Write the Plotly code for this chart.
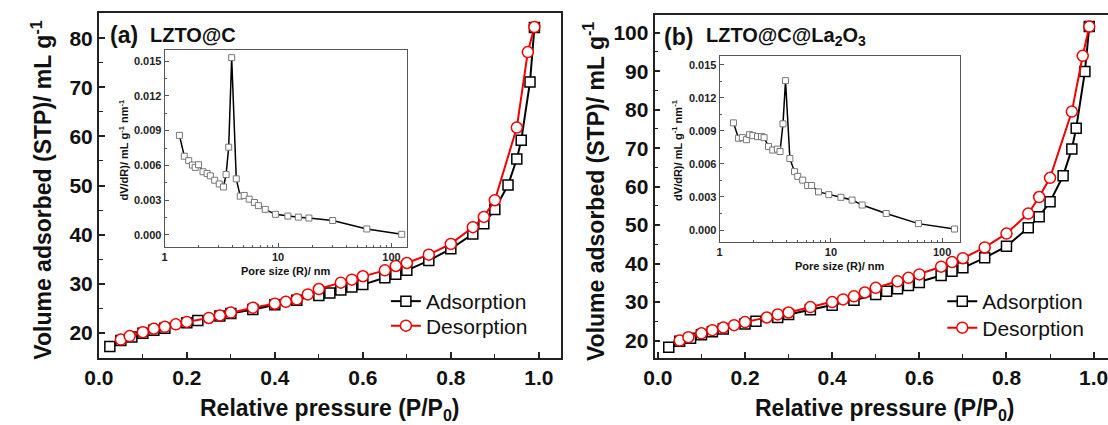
import plotly.graph_objects as go

W, H = 1108, 425

# ---------------- data ----------------
a_ads_x = [0.025, 0.05, 0.075, 0.1, 0.125, 0.15, 0.2, 0.225, 0.275, 0.3, 0.35, 0.4, 0.45, 0.5, 0.525,
           0.55, 0.575, 0.6, 0.65, 0.675, 0.7, 0.75, 0.8, 0.85, 0.875, 0.9, 0.93, 0.95, 0.96, 0.98, 0.99]
a_ads_y = [17.2, 18.4, 19.1, 19.9, 20.5, 20.9, 22.0, 22.5, 23.4, 23.9, 24.7, 25.7, 26.6, 27.6, 28.1,
           28.7, 29.3, 29.8, 31.2, 31.9, 32.7, 34.7, 37.1, 40.1, 42.2, 45.1, 50.1, 55.4, 59.2, 71.1, 82.2]
a_des_x = [0.05, 0.07, 0.1, 0.125, 0.15, 0.175, 0.2, 0.25, 0.275, 0.3, 0.35, 0.4, 0.425, 0.45, 0.475,
           0.5, 0.55, 0.575, 0.6, 0.65, 0.675, 0.7, 0.75, 0.8, 0.85, 0.875, 0.9, 0.95, 0.975, 0.99]
a_des_y = [18.6, 19.3, 20.1, 20.8, 21.2, 21.7, 22.2, 23.0, 23.5, 24.1, 25.1, 25.9, 26.3, 26.8, 27.8,
           28.9, 30.2, 30.8, 31.5, 32.7, 33.6, 34.2, 35.9, 38.1, 41.5, 43.6, 47.0, 61.8, 77.2, 82.3]

b_ads_x = [0.025, 0.05, 0.075, 0.1, 0.125, 0.15, 0.2, 0.225, 0.275, 0.3, 0.35, 0.4, 0.45, 0.5, 0.525,
           0.55, 0.575, 0.6, 0.65, 0.675, 0.7, 0.75, 0.8, 0.85, 0.875, 0.9, 0.93, 0.95, 0.96, 0.98, 0.99]
b_ads_y = [18.3, 19.8, 20.6, 21.5, 22.3, 23.0, 24.3, 25.0, 26.0, 26.8, 28.0, 29.2, 30.5, 32.0, 32.8,
           33.5, 34.3, 35.1, 36.9, 38.0, 38.9, 41.5, 44.5, 49.3, 52.2, 56.1, 62.8, 69.8, 75.2, 89.9, 101.6]
b_des_x = [0.05, 0.07, 0.1, 0.125, 0.15, 0.175, 0.2, 0.25, 0.275, 0.3, 0.35, 0.4, 0.425, 0.45, 0.475,
           0.5, 0.55, 0.575, 0.6, 0.65, 0.675, 0.7, 0.75, 0.8, 0.85, 0.875, 0.9, 0.95, 0.975, 0.99]
b_des_y = [20.0, 20.9, 21.9, 22.7, 23.4, 24.0, 24.8, 26.0, 26.8, 27.3, 28.7, 30.0, 30.7, 31.5, 32.5,
           33.7, 35.4, 36.3, 37.2, 39.2, 40.4, 41.4, 44.2, 47.8, 53.0, 57.3, 62.3, 79.5, 94.0, 101.6]

a_pore_r = [1.35, 1.49, 1.63, 1.76, 1.86, 1.99, 2.18, 2.37, 2.53, 2.76, 3.03, 3.30, 3.48, 3.67, 3.90,
            4.28, 4.64, 5.03, 5.56, 6.18, 6.70, 7.71, 9.48, 12.2, 15.1, 18.7, 30.3, 60.6, 123]
a_pore_v = [0.00859, 0.00679, 0.00641, 0.00603, 0.00583, 0.00606, 0.00545, 0.00530, 0.00510, 0.00472,
            0.00440, 0.00414, 0.00521, 0.00757, 0.01529, 0.00484, 0.00335, 0.00341, 0.00309, 0.00280,
            0.00253, 0.00221, 0.00178, 0.00163, 0.00154, 0.00146, 0.00125, 0.00052, 0.00006]

b_pore_r = [1.33, 1.48, 1.60, 1.74, 1.86, 1.99, 2.19, 2.38, 2.51, 2.75, 3.00, 3.30, 3.49, 3.71, 3.91,
            4.28, 4.71, 5.04, 5.58, 6.18, 6.71, 7.74, 9.57, 12.3, 15.5, 19.1, 31.4, 61.2, 129]
b_pore_v = [0.00973, 0.00833, 0.00839, 0.00820, 0.00866, 0.00857, 0.00848, 0.00848, 0.00839, 0.00759,
            0.00726, 0.00735, 0.00713, 0.00964, 0.01356, 0.00649, 0.00530, 0.00487, 0.00453, 0.00404,
            0.00404, 0.00346, 0.00321, 0.00297, 0.00272, 0.00227, 0.00150, 0.00058, 0.00009]

main_x_ticks = [0.0, 0.2, 0.4, 0.6, 0.8, 1.0]
a_y_ticks = [20, 30, 40, 50, 60, 70, 80]
b_y_ticks = [20, 30, 40, 50, 60, 70, 80, 90, 100]
inset_x_ticks = [1, 10, 100]
inset_y_ticks = [0.000, 0.003, 0.006, 0.009, 0.012, 0.015]

FONT = "Liberation Sans"
AX = "#222222"


def fx(p):
    return p / W


def fy(p):
    return 1 - p / H


fig = go.Figure()


def add_iso(x_ads, y_ads, x_des, y_des, xa, ya, leg_ads, leg_des):
    fig.add_trace(go.Scatter(
        x=x_ads, y=y_ads, mode="lines+markers", name="Adsorption",
        line=dict(color="black", width=2),
        marker=dict(symbol="square", size=10, color="white", line=dict(color="black", width=1.5)),
        xaxis=xa, yaxis=ya, legend=leg_ads, cliponaxis=False))
    fig.add_trace(go.Scatter(
        x=x_des, y=y_des, mode="lines+markers", name="Desorption",
        line=dict(color="#ee0000", width=2),
        marker=dict(symbol="circle", size=11, color="white", line=dict(color="#ee0000", width=1.5)),
        xaxis=xa, yaxis=ya, legend=leg_des, cliponaxis=False))


def add_pore(r, v, xa, ya):
    fig.add_trace(go.Scatter(
        x=r, y=v, mode="lines+markers", showlegend=False,
        line=dict(color="black", width=1.5),
        marker=dict(symbol="square", size=6, color="white", line=dict(color="#777777", width=1)),
        xaxis=xa, yaxis=ya, cliponaxis=False))


add_iso(a_ads_x, a_ads_y, a_des_x, a_des_y, "x", "y", "legend", "legend2")
add_iso(b_ads_x, b_ads_y, b_des_x, b_des_y, "x3", "y3", "legend3", "legend4")
add_pore(a_pore_r, a_pore_v, "x2", "y2")
add_pore(b_pore_r, b_pore_v, "x4", "y4")

main_tickfont = dict(family=FONT, size=21, color="#111111", weight="bold")
inset_tickfont = dict(family=FONT, size=11, color="#222222", weight="bold")


def main_x(domain, rng, anchor):
    return dict(domain=domain, range=rng, anchor=anchor, showline=True, linecolor=AX, linewidth=1.8,
                mirror=True, ticks="inside", ticklen=6, tickwidth=1.5, tickcolor=AX,
                tickvals=main_x_ticks, ticktext=[f"{v:.1f}" for v in main_x_ticks],
                ticklabeloverflow="allow",
                minor=dict(dtick=0.1, tick0=0, ticks="inside", ticklen=4, tickwidth=1.2, tickcolor=AX),
                tickfont=main_tickfont, showgrid=False, zeroline=False)


def main_y(domain, rng, anchor, ticks, mirror):
    return dict(domain=domain, range=rng, anchor=anchor, showline=True, linecolor=AX, linewidth=1.8,
                mirror=mirror, ticks="inside", ticklen=6, tickwidth=1.5, tickcolor=AX,
                tickvals=ticks, ticktext=[str(v) for v in ticks],
                minor=dict(dtick=5, tick0=0, ticks="inside", ticklen=4, tickwidth=1.2, tickcolor=AX),
                tickfont=main_tickfont, showgrid=False, zeroline=False)


minor_log = [2, 3, 4, 5, 6, 7, 8, 9, 20, 30, 40, 50, 60, 70, 80, 90]


def inset_x(domain, rng, anchor):
    return dict(domain=domain, range=rng, type="log", anchor=anchor, showline=True, linecolor="#555555",
                linewidth=1, mirror=True, ticks="inside", ticklen=4, tickwidth=1, tickcolor="#555555",
                tickvals=inset_x_ticks, ticktext=[str(v) for v in inset_x_ticks],
                minor=dict(tickvals=minor_log, ticks="inside", ticklen=2, tickwidth=0.8, tickcolor="#555555"),
                tickfont=inset_tickfont, showgrid=False, zeroline=False)


def inset_y(domain, rng, anchor):
    return dict(domain=domain, range=rng, anchor=anchor, showline=True, linecolor="#555555",
                linewidth=1, mirror=True, ticks="inside", ticklen=4, tickwidth=1, tickcolor="#555555",
                tickvals=inset_y_ticks, ticktext=[f"{v:.3f}" for v in inset_y_ticks],
                minor=dict(dtick=0.0015, tick0=0, ticks="inside", ticklen=2, tickwidth=0.8, tickcolor="#555555"),
                tickfont=inset_tickfont, showgrid=False, zeroline=False)


leg_common = dict(font=dict(family=FONT, size=21, color="#111111"), bgcolor="rgba(0,0,0,0)",
                  xanchor="left", yanchor="middle", itemsizing="trace")

fig.update_layout(
    width=W, height=H, margin=dict(l=0, r=0, t=0, b=0),
    paper_bgcolor="white", plot_bgcolor="white",
    xaxis=main_x([fx(85), fx(553.3)], [0, 1.05], "y"),
    yaxis=main_y([fy(357.7), fy(13.3)], [14.9, 85.1], "x", a_y_ticks, True),
    xaxis2=inset_x([fx(151.7), fx(397.3)], [0, 2.136], "y2"),
    yaxis2=inset_y([fy(246.7), fy(50)], [-0.00101, 0.01595], "x2"),
    xaxis3=main_x([fx(648.3), 1.0], [-0.0077, 1.033], "y3"),
    yaxis3=main_y([fy(358.3), fy(15)], [15.4, 104.6], "x3", b_y_ticks, False),
    xaxis4=inset_x([fx(714.3), fx(957.7)], [0, 2.158], "y4"),
    yaxis4=inset_y([fy(241.7), fy(56)], [-0.00106, 0.0158], "x4"),
    legend=dict(x=fx(376), y=fy(301.5), **leg_common),
    legend2=dict(x=fx(376), y=fy(326), **leg_common),
    legend3=dict(x=fx(940), y=fy(301.5), **leg_common),
    legend4=dict(x=fx(940), y=fy(328), **leg_common),
    showlegend=True,
)

ann = []


def text(x, y, s, size, bold=True, angle=0, xanchor="center"):
    ann.append(dict(x=fx(x), y=fy(y), xref="paper", yref="paper", text=s, showarrow=False,
                    xanchor=xanchor, yanchor="middle", textangle=angle,
                    font=dict(family=FONT, size=size, color="#111111", weight="bold" if bold else "normal")))


# panel titles
text(94, 35, "(a)", 23, xanchor="left")
text(135, 35, "LZTO@C", 20, xanchor="left")
text(656, 37, "(b)", 23, xanchor="left")
text(698, 37, "LZTO@C@La<sub>2</sub>O<sub>3</sub>", 20, xanchor="left")
# main axis titles
text(319, 409, "Relative pressure (P/P<sub>0</sub>)", 23)
text(882, 409, "Relative pressure (P/P<sub>0</sub>)", 23)
text(27, 190, "Volume adsorbed (STP)/ mL g<sup>-1</sup>", 23, angle=-90)
text(587, 192, "Volume adsorbed (STP)/ mL g<sup>-1</sup>", 23, angle=-90)
# inset titles
text(274, 271, "Pore size (R)/ nm", 11)
text(836, 266, "Pore size (R)/ nm", 11)
text(110, 150, "dV/dR)/ mL g<sup>-1</sup> nm<sup>-1</sup>", 11, angle=-90)
text(671, 150, "dV/dR)/ mL g<sup>-1</sup> nm<sup>-1</sup>", 11, angle=-90)

fig.update_layout(annotations=ann)

fig.write_html("out.html")
